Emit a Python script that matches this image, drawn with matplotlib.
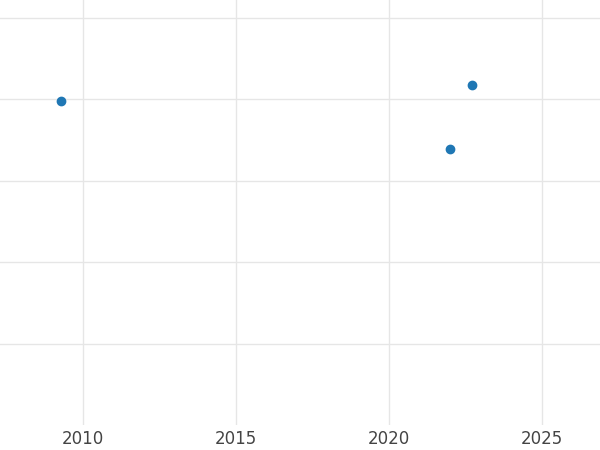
import matplotlib
matplotlib.use("Agg")
import matplotlib.pyplot as plt

years = [2009.28, 2021.99, 2022.71]
values = [3.98, 3.39, 4.18]
xticks = [2010, 2015, 2020, 2025]

fig = plt.figure(figsize=(6, 4.5), dpi=100)
ax = fig.add_axes([0, 0.055, 1, 0.945])
ax.scatter(years, values, s=36, color="#1f77b4", zorder=3)
ax.set_xlim(2007.29, 2026.9)
ax.set_ylim(0, 5.22)
ax.set_xticks(xticks)
ax.set_xticklabels([str(t) for t in xticks], fontsize=12, color="#444444")
ax.set_yticks([1, 2, 3, 4, 5])
ax.set_yticklabels([])
ax.tick_params(length=0)
ax.grid(True, color="#e6e6e6", linewidth=1)
ax.set_axisbelow(True)
for s in ax.spines.values():
    s.set_visible(False)
fig.savefig("out.png", dpi=100)
